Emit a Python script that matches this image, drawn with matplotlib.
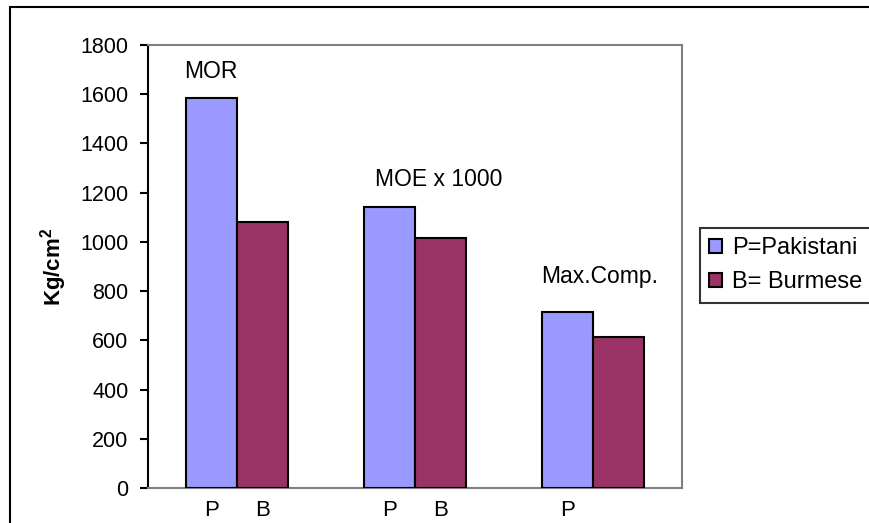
import matplotlib
matplotlib.use("Agg")
import matplotlib.pyplot as plt
import matplotlib.patches as patches
import numpy as np

# values in kg/cm2 (MOE shown divided by 1000)
groups = ["MOR", "MOE x 1000", "Max.Comp."]
pakistani = [1585, 1140, 715]
burmese = [1080, 1015, 615]
series_names = ["P=Pakistani", "B= Burmese"]
bar_tick_labels = ["P", "B", "P", "B", "P"]
y_ticks = list(range(0, 1801, 200))

# where each group caption sits: (x in category units, y in data units)
caption_pos = [(-0.145, 1666), (1.135, 1227), (2.04, 833)]

plt.rcParams["font.family"] = ["Liberation Sans", "DejaVu Sans"]
plt.rcParams["font.size"] = 15
plt.rcParams["mathtext.fontset"] = "custom"
plt.rcParams["mathtext.rm"] = "Liberation Sans"
plt.rcParams["mathtext.bf"] = "Liberation Sans:bold"

W, H = 870, 523
fig = plt.figure(figsize=(W / 100, H / 100), dpi=100)
fig.patch.set_facecolor("white")

# outer chart frame, runs off the right and bottom edges
frame = patches.Rectangle((10 / W, -0.2), 1.5, 1.2 - 7 / H,
                          transform=fig.transFigure, fill=False,
                          edgecolor="black", linewidth=1.5, clip_on=False)
fig.patches.append(frame)

ax = fig.add_axes([148 / W, 1 - 488 / H, 534 / W, 443 / H])

x = np.arange(len(groups))
bw = 51 / 178
ax.bar(x - bw / 2, pakistani, bw, color="#9999FF", edgecolor="black",
       linewidth=1.5, label=series_names[0], zorder=3)
ax.bar(x + bw / 2, burmese, bw, color="#993366", edgecolor="black",
       linewidth=1.5, label=series_names[1], zorder=3)

ax.set_xlim(-0.5, len(groups) - 0.5)
ax.set_ylim(0, 1800)
ax.set_yticks(y_ticks)
ax.tick_params(axis="y", direction="out", length=6, width=1.5, pad=8,
               labelsize=15.5)

centres = np.ravel(np.column_stack([x - bw / 2, x + bw / 2]))
ax.set_xticks(centres[:len(bar_tick_labels)])
ax.set_xticklabels(bar_tick_labels)
ax.tick_params(axis="x", length=0, pad=9, labelsize=16)

for sp in ["top", "right", "bottom"]:
    ax.spines[sp].set_color("#808080")
    ax.spines[sp].set_linewidth(1.5)
ax.spines["left"].set_color("black")
ax.spines["left"].set_linewidth(1.5)

for name, (cx, cy) in zip(groups, caption_pos):
    ax.text(cx, cy, name, ha="center", va="baseline", fontsize=16.5)

ax.set_ylabel(r"Kg/cm$^{\mathbf{2}}$", fontweight="bold", fontsize=16)
ax.yaxis.set_label_coords(-0.148, 0.5)

leg = ax.legend(loc="upper left", bbox_to_anchor=(700 / W, 1 - 228 / H),
                bbox_transform=fig.transFigure, fancybox=False, shadow=False,
                frameon=True, handlelength=0.55, handleheight=0.55,
                handletextpad=0.4, borderpad=0.4, labelspacing=0.5,
                borderaxespad=0, fontsize=17)
leg.get_frame().set_edgecolor("black")
leg.get_frame().set_linewidth(1.5)

fig.savefig("out.png", dpi=100)
